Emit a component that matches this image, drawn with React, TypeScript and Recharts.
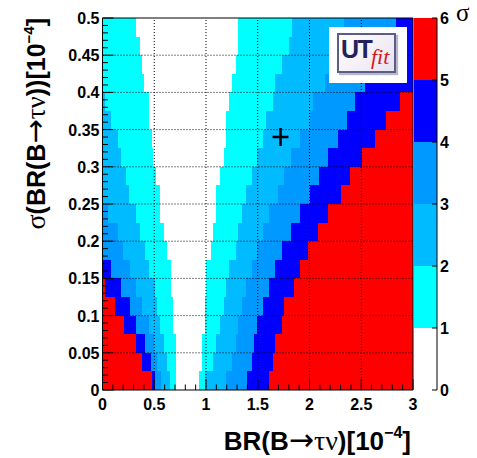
import React from 'react';
import { ComposedChart, XAxis, YAxis, ReferenceArea, ReferenceLine, Scatter } from 'recharts';

// colour of each sigma level (0-1 ... 5-6)
const levelColors = ['#ffffff', '#00ffff', '#00bbff', '#0099ff', '#0000ff', '#ff0000'];
// level of each horizontal segment in a row, left to right
const segmentLevels = [5, 4, 3, 2, 1, 0, 1, 2, 3, 4, 5];
// y edges of the rows (sigma(BR))
const rowEdges = [0, 0.025, 0.05, 0.075, 0.1, 0.125, 0.15, 0.175, 0.2, 0.225, 0.25,
  0.275, 0.3, 0.325, 0.35, 0.375, 0.4, 0.425, 0.45, 0.475, 0.5];
// x boundaries (BR) between the segments of each row, bottom row first
const rowBounds = [
  [0.48, 0.51, 0.57, 0.65, 0.71, 0.93, 0.99, 1.19, 1.40, 1.61],
  [0.38, 0.47, 0.53, 0.62, 0.71, 0.96, 1.07, 1.25, 1.44, 1.65],
  [0.32, 0.41, 0.50, 0.59, 0.71, 0.96, 1.10, 1.29, 1.46, 1.67],
  [0.21, 0.32, 0.45, 0.56, 0.68, 0.99, 1.14, 1.31, 1.49, 1.73],
  [0.12, 0.265, 0.38, 0.53, 0.68, 0.99, 1.17, 1.35, 1.55, 1.75],
  [0.02, 0.18, 0.32, 0.51, 0.66, 1.0, 1.19, 1.39, 1.61, 1.85],
  [0, 0.08, 0.265, 0.45, 0.66, 1.0, 1.22, 1.44, 1.67, 1.91],
  [0, 0, 0.20, 0.41, 0.62, 1.05, 1.29, 1.49, 1.73, 1.99],
  [0, 0, 0.15, 0.36, 0.59, 1.07, 1.31, 1.55, 1.82, 2.08],
  [0, 0, 0.055, 0.32, 0.56, 1.10, 1.35, 1.61, 1.91, 2.18],
  [0, 0, 0, 0.26, 0.56, 1.10, 1.39, 1.70, 2.0, 2.30],
  [0, 0, 0, 0.23, 0.52, 1.14, 1.44, 1.75, 2.09, 2.39],
  [0, 0, 0, 0.18, 0.49, 1.17, 1.49, 1.82, 2.18, 2.51],
  [0, 0, 0, 0.145, 0.48, 1.19, 1.55, 1.91, 2.28, 2.63],
  [0, 0, 0, 0.08, 0.45, 1.19, 1.58, 2.0, 2.36, 2.74],
  [0, 0, 0, 0.02, 0.45, 1.22, 1.65, 2.03, 2.44, 2.87],
  [0, 0, 0, 0, 0.40, 1.25, 1.67, 2.15, 2.54, 3.0],
  [0, 0, 0, 0, 0.38, 1.29, 1.73, 2.22, 2.65, 3.0],
  [0, 0, 0, 0, 0.36, 1.31, 1.80, 2.28, 2.75, 3.0],
  [0, 0, 0, 0, 0.32, 1.31, 1.83, 2.33, 2.84, 3.0],
];
const marker = [{ x: 1.72, y: 0.34 }];
const xDomain = [0, 3];
const yDomain = [0, 0.5];
const xTicks = [0, 0.1, 0.2, 0.3, 0.4, 0.5, 0.6, 0.7, 0.8, 0.9, 1, 1.1, 1.2, 1.3, 1.4, 1.5,
  1.6, 1.7, 1.8, 1.9, 2, 2.1, 2.2, 2.3, 2.4, 2.5, 2.6, 2.7, 2.8, 2.9, 3];
const yTicks = [0, 0.01, 0.02, 0.03, 0.04, 0.05, 0.06, 0.07, 0.08, 0.09, 0.1, 0.11, 0.12, 0.13,
  0.14, 0.15, 0.16, 0.17, 0.18, 0.19, 0.2, 0.21, 0.22, 0.23, 0.24, 0.25, 0.26, 0.27, 0.28, 0.29,
  0.3, 0.31, 0.32, 0.33, 0.34, 0.35, 0.36, 0.37, 0.38, 0.39, 0.4, 0.41, 0.42, 0.43, 0.44, 0.45,
  0.46, 0.47, 0.48, 0.49, 0.5];
const xGrid = [0.5, 1, 1.5, 2, 2.5];
const yGrid = [0.05, 0.1, 0.15, 0.2, 0.25, 0.3, 0.35, 0.4, 0.45];
const colorbarLevels = [1, 2, 3, 4, 5];
const colorbarTicks = [0, 1, 2, 3, 4, 5, 6];

const FONT = '"Liberation Sans", Arial, Helvetica, sans-serif';
const GREEK = '"Liberation Serif", "DejaVu Serif", serif';
const ARROW = '"DejaVu Sans", sans-serif';

type Cell = { key: string; x1: number; x2: number; y1: number; y2: number; fill: string };
const cells: Cell[] = [];
rowBounds.forEach((b, r) => {
  segmentLevels.forEach((lvl, s) => {
    const x1 = s === 0 ? xDomain[0] : b[s - 1];
    const x2 = s === segmentLevels.length - 1 ? xDomain[1] : b[s];
    if (x2 > x1 && lvl > 0) {
      cells.push({ key: `c${r}-${s}`, x1, x2, y1: rowEdges[r], y2: rowEdges[r + 1], fill: levelColors[lvl] });
    }
  });
});

const isMult = (v: number, step: number) => Math.abs(v / step - Math.round(v / step)) < 1e-6;
const fmt = (v: number) => String(Number(v.toFixed(3)));

const XTick = (props: any) => {
  const { x, y, payload } = props;
  const major = isMult(payload.value, 0.5);
  return (
    <g>
      <line x1={x} x2={x} y1={y} y2={y - (major ? 11 : 5.5)} stroke="#000" strokeWidth={1} />
      {major && (
        <text x={x} y={y + 20} textAnchor="middle" fontFamily={FONT} fontWeight="bold" fontSize={16} fill="#000">
          {fmt(payload.value)}
        </text>
      )}
    </g>
  );
};

const YTick = (props: any) => {
  const { x, y, payload } = props;
  const major = isMult(payload.value, 0.05);
  return (
    <g>
      <line x1={x} x2={x + (major ? 11 : 5.5)} y1={y} y2={y} stroke="#000" strokeWidth={1} />
      {major && (
        <text x={x - 3} y={y + 6} textAnchor="end" fontFamily={FONT} fontWeight="bold" fontSize={16} fill="#000">
          {fmt(payload.value)}
        </text>
      )}
    </g>
  );
};

const CbTick = (props: any) => {
  const { x, y, payload } = props;
  return (
    <g>
      <line x1={x - 5} x2={x} y1={y} y2={y} stroke="#000" strokeWidth={1} />
      <text x={x + 3} y={y + 6} textAnchor="start" fontFamily={FONT} fontWeight="bold" fontSize={16} fill="#000">
        {payload.value}
      </text>
    </g>
  );
};

const PlusShape = (props: any) => {
  const { cx, cy } = props;
  return (
    <g>
      <line x1={cx - 8} x2={cx + 8} y1={cy} y2={cy} stroke="#000" strokeWidth={2.6} />
      <line x1={cx} x2={cx} y1={cy - 9} y2={cy + 9} stroke="#000" strokeWidth={2.6} />
    </g>
  );
};

export default function App() {
  return (
    <div style={{ position: 'absolute', left: 0, top: 0, width: 477, height: 458, background: '#fff' }}>
      <div style={{ position: 'absolute', left: 0, top: 0 }}>
        <ComposedChart width={477} height={458} data={marker} margin={{ top: 18, right: 64, bottom: 0, left: 0 }}>
          <XAxis
            dataKey="x"
            type="number"
            domain={xDomain}
            allowDataOverflow
            ticks={xTicks}
            interval={0}
            tickSize={0}
            tickMargin={0}
            tickLine={false}
            height={68}
            axisLine={{ stroke: '#000', strokeWidth: 1 }}
            tick={<XTick />}
          />
          <YAxis
            dataKey="y"
            type="number"
            domain={yDomain}
            allowDataOverflow
            ticks={yTicks}
            interval={0}
            tickSize={0}
            tickMargin={0}
            tickLine={false}
            width={102.5}
            axisLine={{ stroke: '#000', strokeWidth: 1 }}
            tick={<YTick />}
          />
          {cells.map((c) => (
            <ReferenceArea
              key={c.key}
              x1={c.x1}
              x2={c.x2}
              y1={c.y1}
              y2={c.y2}
              fill={c.fill}
              fillOpacity={1}
              stroke="none"
              shapeRendering="crispEdges"
              ifOverflow="visible"
            />
          ))}
          {xGrid.map((v) => (
            <ReferenceLine key={`gx${v}`} x={v} stroke="#000" strokeDasharray="1 2" strokeWidth={1} />
          ))}
          {yGrid.map((v) => (
            <ReferenceLine key={`gy${v}`} y={v} stroke="#000" strokeDasharray="1 2" strokeWidth={1} />
          ))}
          <ReferenceLine x={3} stroke="#000" strokeWidth={1} />
          <ReferenceLine y={0.5} stroke="#000" strokeWidth={1} />
          <Scatter data={marker} dataKey="y" isAnimationActive={false} shape={<PlusShape />} />
        </ComposedChart>
      </div>

      <div style={{ position: 'absolute', left: 0, top: 0, pointerEvents: 'none' }}>
        <ComposedChart width={477} height={458} data={[{ x: 0.5, y: 3 }]} margin={{ top: 18, right: 0, bottom: 68, left: 414 }}>
          <XAxis dataKey="x" type="number" domain={[0, 1]} hide />
          <YAxis
            dataKey="y"
            type="number"
            orientation="right"
            domain={[0, 6]}
            ticks={colorbarTicks}
            interval={0}
            tickSize={0}
            tickMargin={0}
            tickLine={false}
            width={40}
            axisLine={{ stroke: '#000', strokeWidth: 1 }}
            tick={<CbTick />}
          />
          {colorbarLevels.map((lvl) => (
            <ReferenceArea
              key={`cb${lvl}`}
              x1={0}
              x2={1}
              y1={lvl}
              y2={lvl + 1}
              fill={levelColors[lvl]}
              fillOpacity={1}
              stroke="none"
              shapeRendering="crispEdges"
            />
          ))}
        </ComposedChart>
      </div>

      <svg width={477} height={458} style={{ position: 'absolute', left: 0, top: 0, pointerEvents: 'none' }}>
        <text x={411} y={450} textAnchor="end" fontFamily={FONT} fontWeight="bold" fontSize={26} fill="#000">
          BR(B<tspan fontFamily={ARROW} fontWeight="normal" fontSize={30}>→</tspan>
          <tspan fontFamily={GREEK} fontWeight="normal" fontSize={28}>τν</tspan>)[10
          <tspan fontSize={16} dy={-12}>−4</tspan>
          <tspan dy={12}>]</tspan>
        </text>
        <text
          transform="translate(45,18) rotate(-90)"
          x={0}
          y={0}
          textAnchor="end"
          fontFamily={FONT}
          fontWeight="bold"
          fontSize={25}
          fill="#000"
        >
          <tspan fontFamily={GREEK} fontWeight="normal" fontSize={28}>σ</tspan>(BR(B
          <tspan fontFamily={ARROW} fontWeight="normal" fontSize={29}>→</tspan>
          <tspan fontFamily={GREEK} fontWeight="normal" fontSize={27}>τν</tspan>))[10
          <tspan fontSize={15} dy={-11}>−4</tspan>
          <tspan dy={11}>]</tspan>
        </text>
        <text x={456} y={21} fontFamily={GREEK} fontSize={25} fill="#000">σ</text>
      </svg>

      <div style={{ position: 'absolute', left: 329, top: 27, width: 78, height: 56, background: '#fff' }}>
        <div
          style={{
            position: 'absolute',
            left: 8,
            top: 6,
            width: 55,
            height: 36,
            border: '2px solid #5c5c8a',
            background: 'linear-gradient(135deg, #ffffff 0%, #f3eef6 60%, #e6e2ee 100%)',
            boxShadow: '2px 2px 1px #b8b8c8',
          }}
        >
          <span
            style={{
              position: 'absolute',
              left: 2,
              top: 1,
              fontFamily: FONT,
              fontWeight: 'bold',
              fontSize: 25,
              color: '#22225e',
              letterSpacing: -1.5,
              lineHeight: '26px',
            }}
          >
            UT
          </span>
          <span
            style={{
              position: 'absolute',
              left: 32,
              top: 10,
              fontFamily: '"Liberation Serif", "DejaVu Serif", serif',
              fontStyle: 'italic',
              fontSize: 22,
              color: '#d8141e',
              lineHeight: '24px',
            }}
          >
            fit
          </span>
        </div>
      </div>
    </div>
  );
}
